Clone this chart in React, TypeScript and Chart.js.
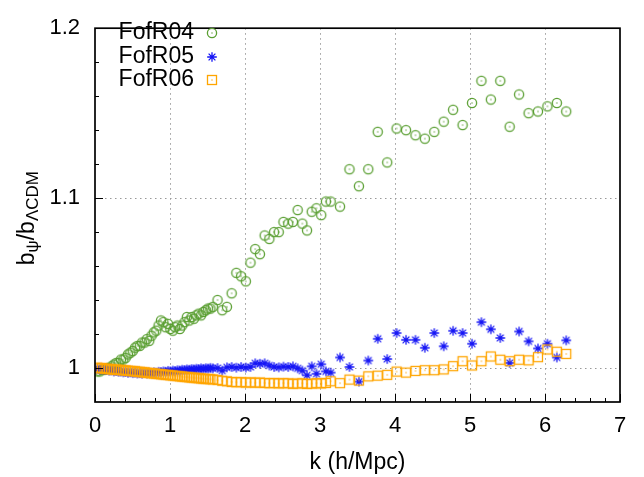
import React, { useEffect, useRef } from 'react';
import { Chart, registerables } from 'chart.js';

Chart.register(...registerables);

// ---------- data ----------
const kValues = [
  0.031, 0.063, 0.094, 0.126, 0.157, 0.188, 0.220, 0.251, 0.283, 0.314,
  0.346, 0.377, 0.408, 0.440, 0.471, 0.503, 0.534, 0.565, 0.597, 0.628,
  0.660, 0.691, 0.723, 0.754, 0.785, 0.817, 0.848, 0.880, 0.911, 0.942,
  0.974, 1.005, 1.037, 1.068, 1.100, 1.131, 1.162, 1.194, 1.225, 1.257,
  1.288, 1.319, 1.351, 1.382, 1.414, 1.445, 1.477, 1.508, 1.539, 1.571,
  1.634, 1.696, 1.759, 1.822, 1.885, 1.948, 2.011, 2.073, 2.136, 2.199,
  2.262, 2.325, 2.388, 2.450, 2.513, 2.576, 2.639, 2.702, 2.765, 2.827,
  2.890, 2.953, 3.016, 3.079, 3.142,
  3.267, 3.393, 3.519, 3.644, 3.770, 3.896, 4.021, 4.147, 4.273, 4.398,
  4.524, 4.650, 4.775, 4.901, 5.027, 5.152, 5.278, 5.404, 5.529, 5.655,
  5.781, 5.906, 6.032, 6.158, 6.283,
];

const fofR04 = [
  0.998, 0.998, 0.999, 0.999, 1.000, 1.000, 1.001, 1.002, 1.003, 1.003,
  1.005, 1.005, 1.006, 1.008, 1.009, 1.010, 1.012, 1.013, 1.013, 1.015,
  1.015, 1.017, 1.016, 1.019, 1.021, 1.022, 1.025, 1.028, 1.027, 1.024,
  1.026, 1.023, 1.022, 1.024, 1.025, 1.023, 1.025, 1.027, 1.030, 1.028,
  1.030, 1.029, 1.031, 1.032, 1.031, 1.033, 1.034, 1.035, 1.035, 1.036,
  1.040, 1.034, 1.036, 1.044, 1.056, 1.054, 1.051, 1.062, 1.070, 1.067,
  1.078, 1.076, 1.080, 1.080, 1.086, 1.085, 1.086, 1.093, 1.085, 1.081,
  1.092, 1.094, 1.090, 1.098, 1.098,
  1.095, 1.117, 1.107, 1.117, 1.139, 1.121, 1.141, 1.140, 1.137, 1.135,
  1.139, 1.145, 1.152, 1.143, 1.156, 1.169, 1.158, 1.169, 1.142, 1.161,
  1.150, 1.151, 1.154, 1.156, 1.151,
];

const fofR05 = [
  0.9995, 0.9990, 0.9992, 0.9988, 0.9990, 0.9985, 0.9987, 0.9980, 0.9983, 0.9978,
  0.9980, 0.9975, 0.9977, 0.9972, 0.9975, 0.9970, 0.9973, 0.9968, 0.9970, 0.9967,
  0.9972, 0.9968, 0.9973, 0.9970, 0.9975, 0.9972, 0.9978, 0.9976, 0.9980, 0.9978,
  0.9983, 0.9980, 0.9985, 0.9982, 0.9987, 0.9985, 0.9990, 0.9988, 0.9992, 0.9990,
  0.9994, 0.9992, 0.9996, 0.9994, 0.9998, 0.9995, 0.9999, 0.9997, 1.0001, 0.9998,
  1.0000, 0.9985, 1.0004, 1.0006, 1.0002, 1.0006, 1.0003, 1.0006, 1.0028, 1.0025,
  1.0028, 1.0015, 1.0006, 1.0004, 1.0008, 1.0006, 1.0010, 0.9998, 0.9985, 0.9957,
  1.0010, 0.9966, 1.0022, 0.9980, 0.9973,
  1.0062, 1.0006, 0.9920, 1.0044, 1.0172, 1.0053, 1.0206, 1.0166, 1.0166, 1.0119,
  1.0206, 1.0128, 1.0219, 1.0206, 1.0143, 1.0270, 1.0228, 1.0177, 1.0030, 1.0215,
  1.0157, 1.0115, 1.0143, 1.0062, 1.0163,
];

const fofR06 = [
  1.0002, 0.9998, 1.0000, 0.9996, 0.9996, 0.9993, 0.9993, 0.9990, 0.9991, 0.9988,
  0.9989, 0.9986, 0.9986, 0.9984, 0.9983, 0.9981, 0.9981, 0.9978, 0.9978, 0.9975,
  0.9975, 0.9972, 0.9971, 0.9969, 0.9968, 0.9966, 0.9965, 0.9963, 0.9962, 0.9960,
  0.9959, 0.9957, 0.9956, 0.9954, 0.9953, 0.9951, 0.9950, 0.9948, 0.9947, 0.9945,
  0.9944, 0.9943, 0.9941, 0.9940, 0.9939, 0.9937, 0.9936, 0.9935, 0.9934, 0.9933,
  0.9930, 0.9925, 0.9922, 0.9918, 0.9916, 0.9917, 0.9914, 0.9916, 0.9913, 0.9915,
  0.9912, 0.9910, 0.9912, 0.9909, 0.9911, 0.9910, 0.9907, 0.9909, 0.9910, 0.9906,
  0.9908, 0.9911, 0.9909, 0.9912, 0.9922,
  0.9911, 0.9932, 0.9926, 0.9951, 0.9955, 0.9960, 0.9979, 0.9973, 0.9983, 0.9987,
  0.9987, 0.9992, 1.0011, 1.0040, 1.0015, 1.0040, 1.0068, 1.0049, 1.0040, 1.0049,
  1.0045, 1.0064, 1.0109, 1.0096, 1.0083,
];

const seriesNames = ['FofR04', 'FofR05', 'FofR06'];
const seriesColors = ['#5a9f32', '#1414f5', '#ffa500'];
const seriesMarkers = ['circle', 'asterisk', 'square'];
const xTicks = [0, 1, 2, 3, 4, 5, 6, 7];
const yTicks = [1, 1.1, 1.2];
const xLabel = 'k (h/Mpc)';

const FONT = '"Liberation Sans", Arial, Helvetica, sans-serif';
const FS = 22;
const FS_BIG = 23;

function makeMarker(kind: string, color: string): HTMLCanvasElement {
  const s = 14;
  const c = document.createElement('canvas');
  c.width = s;
  c.height = s;
  const g = c.getContext('2d')!;
  g.strokeStyle = color;
  g.fillStyle = color;
  g.lineWidth = 1.3;
  const m = s / 2;
  if (kind === 'circle') {
    g.beginPath();
    g.arc(m, m, 4.6, 0, Math.PI * 2);
    g.stroke();
    g.fillRect(m - 0.6, m - 0.6, 1.2, 1.2);
  } else if (kind === 'square') {
    g.strokeRect(m - 4.5, m - 4.5, 9, 9);
    g.fillRect(m - 0.6, m - 0.6, 1.2, 1.2);
  } else {
    const r = 4.8;
    const d = r * Math.SQRT1_2;
    g.beginPath();
    g.moveTo(m - r, m); g.lineTo(m + r, m);
    g.moveTo(m, m - r); g.lineTo(m, m + r);
    g.moveTo(m - d, m - d); g.lineTo(m + d, m + d);
    g.moveTo(m - d, m + d); g.lineTo(m + d, m - d);
    g.stroke();
  }
  return c;
}

const decorPlugin = {
  id: 'gnuplotDecor',
  beforeDatasetsDraw(chart: any) {
    const { ctx, chartArea: a, scales } = chart;
    const x = scales.x;
    const y = scales.y;
    ctx.save();
    ctx.strokeStyle = '#999999';
    ctx.lineWidth = 1;
    ctx.setLineDash([1.5, 3.5]);
    ctx.beginPath();
    for (const t of xTicks) {
      if (t <= 0 || t >= 7) continue;
      const px = Math.round(x.getPixelForValue(t)) + 0.5;
      ctx.moveTo(px, a.top);
      ctx.lineTo(px, a.bottom);
    }
    for (const t of yTicks) {
      if (t >= 1.2) continue;
      const py = Math.round(y.getPixelForValue(t)) + 0.5;
      ctx.moveTo(a.left, py);
      ctx.lineTo(a.right, py);
    }
    ctx.stroke();
    ctx.restore();
  },
  afterDatasetsDraw(chart: any) {
    const { ctx, chartArea: a, scales } = chart;
    const x = scales.x;
    const y = scales.y;
    ctx.save();
    ctx.setLineDash([]);
    ctx.strokeStyle = '#000000';
    ctx.lineWidth = 1;
    ctx.beginPath();
    for (let i = 0; i <= 35; i++) {
      const v = i * 0.2;
      const major = i % 5 === 0;
      const px = Math.round(x.getPixelForValue(v)) + 0.5;
      const len = major ? 8 : 4;
      ctx.moveTo(px, a.bottom);
      ctx.lineTo(px, a.bottom - len);
    }
    for (let i = 0; i <= 10; i++) {
      const v = 1 + i * 0.02;
      const major = i % 5 === 0;
      const py = Math.round(y.getPixelForValue(v)) + 0.5;
      const len = major ? 8 : 4;
      ctx.moveTo(a.left, py);
      ctx.lineTo(a.left + len, py);
    }
    ctx.stroke();
    ctx.lineWidth = 1.7;
    ctx.strokeRect(a.left, a.top, a.right - a.left, a.bottom - a.top);

    // y axis title with subscripts
    const big = `${FS_BIG}px ${FONT}`;
    const small = `${Math.round(FS_BIG * 0.72)}px ${FONT}`;
    const parts: [string, boolean][] = [
      ['b', false], ['\u03C8', true], ['/b', false], ['\u039BCDM', true],
    ];
    let total = 0;
    const widths: number[] = [];
    for (const [t, sub] of parts) {
      ctx.font = sub ? small : big;
      const w = ctx.measureText(t).width;
      widths.push(w);
      total += w;
    }
    ctx.translate(26, (a.top + a.bottom) / 2 + 3);
    ctx.rotate(-Math.PI / 2);
    ctx.fillStyle = '#000000';
    ctx.textBaseline = 'alphabetic';
    ctx.textAlign = 'left';
    let cx = -total / 2;
    parts.forEach(([t, sub], i) => {
      ctx.font = sub ? small : big;
      ctx.fillText(t, cx, sub ? 12 : 8);
      cx += widths[i];
    });
    ctx.restore();

    // legend
    ctx.save();
    ctx.font = big;
    ctx.fillStyle = '#000000';
    ctx.textAlign = 'right';
    ctx.textBaseline = 'middle';
    const rowY = [33, 57, 80];
    seriesNames.forEach((name, i) => {
      ctx.fillText(name, 194, rowY[i]);
      const img = markers[i];
      ctx.drawImage(img, 212 - img.width / 2, rowY[i] - img.height / 2);
    });
    ctx.restore();
  },
};

let markers: HTMLCanvasElement[] = [];

export default function App() {
  const ref = useRef<HTMLCanvasElement | null>(null);

  useEffect(() => {
    document.body.style.margin = '0';
    markers = seriesColors.map((c, i) => makeMarker(seriesMarkers[i], c));
    const series = [fofR04, fofR05, fofR06];
    const datasets = series.map((vals, i) => ({
      label: seriesNames[i],
      data: kValues.map((k, j) => ({ x: k, y: vals[j] })),
      pointStyle: markers[i],
      pointRadius: 5,
      showLine: false,
      borderColor: seriesColors[i],
      backgroundColor: seriesColors[i],
      order: 2 - i,
    }));
    const chart = new Chart(ref.current!, {
      type: 'scatter',
      data: { datasets },
      options: {
        animation: false,
        responsive: false,
        devicePixelRatio: 1,
        events: [],
        layout: { padding: { top: 14, right: 24, left: 0, bottom: 0 } },
        plugins: {
          legend: { display: false },
          tooltip: { enabled: false },
        },
        scales: {
          x: {
            type: 'linear',
            min: 0,
            max: 7,
            grid: { display: false, drawTicks: false },
            border: { display: false },
            afterBuildTicks: (s: any) => {
              s.ticks = xTicks.map((v) => ({ value: v }));
            },
            afterFit: (s: any) => {
              s.height = 75;
            },
            ticks: {
              color: '#000000',
              padding: 11,
              maxRotation: 0,
              autoSkip: false,
              font: { family: FONT, size: FS },
              callback: (v: any) => String(v),
            },
            title: {
              display: true,
              text: xLabel,
              color: '#000000',
              font: { family: FONT, size: FS_BIG },
              padding: { top: 0, bottom: 1 },
            },
          },
          y: {
            type: 'linear',
            min: 0.98,
            max: 1.2,
            grid: { display: false, drawTicks: false },
            border: { display: false },
            afterBuildTicks: (s: any) => {
              s.ticks = yTicks.map((v) => ({ value: v }));
            },
            afterFit: (s: any) => {
              s.width = 95;
            },
            ticks: {
              color: '#000000',
              padding: 15,
              autoSkip: false,
              font: { family: FONT, size: FS },
              callback: (v: any) => String(Math.round(v * 10) / 10),
            },
          },
        },
      },
      plugins: [decorPlugin],
    });
    return () => chart.destroy();
  }, []);

  return (
    <div style={{ width: 644, height: 477 }}>
      <canvas ref={ref} width={644} height={477} style={{ display: 'block' }} />
    </div>
  );
}
